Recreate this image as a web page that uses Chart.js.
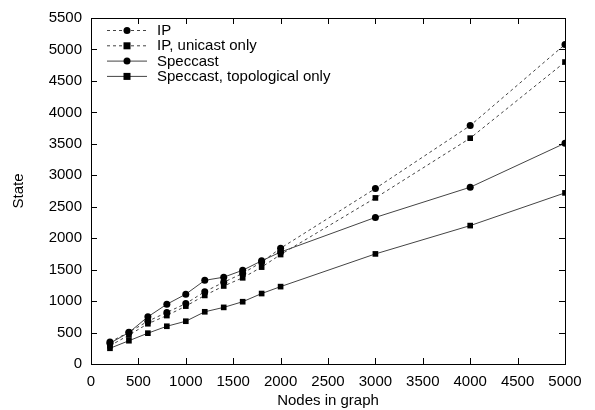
<!DOCTYPE html>
<html>
<head>
<meta charset="utf-8">
<script src="https://cdn.jsdelivr.net/npm/chart.js@4.4.0/dist/chart.umd.min.js"></script>
<style>
  html, body { margin: 0; padding: 0; background: #fff; }
  #wrap { width: 595px; height: 410px; }
</style>
</head>
<body>
<div id="wrap"><canvas id="chart" width="595" height="410"></canvas></div>
<script>
// Valeurs
const nodes = [200, 400, 600, 800, 1000, 1200, 1400, 1600, 1800, 2000, 3000, 4000, 5000];
const ipState = [350, 505, 680, 820, 960, 1150, 1300, 1440, 1620, 1840, 2790, 3790, 5080];
const ipUnicastState = [290, 460, 640, 770, 920, 1090, 1240, 1370, 1540, 1740, 2640, 3590, 4800];
const speccastState = [330, 500, 750, 950, 1110, 1330, 1380, 1490, 1640, 1780, 2330, 2810, 3510];
const topoState = [250, 370, 490, 600, 680, 830, 900, 990, 1120, 1230, 1750, 2200, 2720];
const seriesLabels = ['IP', 'IP, unicast only', 'Speccast', 'Speccast, topological only'];
const xTicks = [0, 500, 1000, 1500, 2000, 2500, 3000, 3500, 4000, 4500, 5000];
const yTicks = [0, 500, 1000, 1500, 2000, 2500, 3000, 3500, 4000, 4500, 5000, 5500];

const FONT = 'Liberation Sans, Arial, Helvetica, sans-serif';

function toPoints(values) {
    return nodes.map((n, i) => ({ x: n, y: values[i] }));
}

function makeDataset(label, values, style, dashed) {
    return {
        label: label,
        data: toPoints(values),
        borderColor: '#444',
        borderWidth: 1,
        borderDash: dashed ? [3, 3] : [],
        pointStyle: style,
        pointRadius: style === 'rect' ? 4 : 3.5,
        pointBackgroundColor: '#000',
        pointBorderColor: '#000',
        pointBorderWidth: 0,
        fill: false,
        tension: 0
    };
}

// Cadre + graduations vers l'intérieur (style gnuplot)
const frameTicks = {
    id: 'frameTicks',
    afterDatasetsDraw(chart) {
        const { ctx, chartArea: a, scales } = chart;
        const len = 6;
        ctx.save();
        ctx.strokeStyle = '#000';
        ctx.lineWidth = 1;
        ctx.strokeRect(a.left + 0.5, a.top + 0.5, a.right - a.left, a.bottom - a.top);
        ctx.beginPath();
        xTicks.forEach(v => {
            const px = Math.round(scales.x.getPixelForValue(v)) + 0.5;
            ctx.moveTo(px, a.bottom); ctx.lineTo(px, a.bottom - len);
            ctx.moveTo(px, a.top); ctx.lineTo(px, a.top + len);
        });
        yTicks.forEach(v => {
            const py = Math.round(scales.y.getPixelForValue(v)) + 0.5;
            ctx.moveTo(a.left, py); ctx.lineTo(a.left + len, py);
            ctx.moveTo(a.right, py); ctx.lineTo(a.right - len, py);
        });
        ctx.stroke();
        ctx.restore();
    }
};

// Légende : trait + marqueur + texte, en haut à gauche
const lineLegend = {
    id: 'lineLegend',
    afterDraw(chart) {
        const { ctx, chartArea: a } = chart;
        ctx.save();
        ctx.font = '15px ' + FONT;
        ctx.textBaseline = 'middle';
        ctx.fillStyle = '#000';
        chart.data.datasets.forEach((ds, i) => {
            const y = a.top + 12 + i * 15.3;
            const x0 = a.left + 16, x1 = a.left + 56, xm = (x0 + x1) / 2;
            ctx.strokeStyle = ds.borderColor;
            ctx.lineWidth = 1;
            ctx.setLineDash(ds.borderDash);
            ctx.beginPath();
            ctx.moveTo(x0, y + 0.5); ctx.lineTo(x1, y + 0.5);
            ctx.stroke();
            ctx.setLineDash([]);
            ctx.fillStyle = '#000';
            if (ds.pointStyle === 'rect') {
                ctx.fillRect(xm - 3.5, y - 3, 7, 7);
            } else {
                ctx.beginPath();
                ctx.arc(xm, y + 0.5, 3.5, 0, Math.PI * 2);
                ctx.fill();
            }
            ctx.fillText(ds.label, a.left + 66, y + 1);
        });
        ctx.restore();
    }
};

const ctx = document.getElementById('chart').getContext('2d');
new Chart(ctx, {
    type: 'line',
    data: {
        datasets: [
            makeDataset(seriesLabels[0], ipState, 'circle', true),
            makeDataset(seriesLabels[1], ipUnicastState, 'rect', true),
            makeDataset(seriesLabels[2], speccastState, 'circle', false),
            makeDataset(seriesLabels[3], topoState, 'rect', false)
        ]
    },
    options: {
        responsive: false,
        animation: false,
        layout: { padding: { left: 10, right: 30, top: 14, bottom: 0 } },
        plugins: {
            legend: { display: false },
            tooltip: { enabled: false }
        },
        scales: {
            x: {
                type: 'linear',
                min: 0,
                max: 5000,
                afterBuildTicks: s => { s.ticks = xTicks.map(v => ({ value: v })); },
                afterFit: s => { s.height = 46; },
                grid: { display: false, drawTicks: false },
                border: { display: false },
                ticks: { color: '#000', font: { family: FONT, size: 15 }, padding: 9, maxRotation: 0,
                         callback: v => String(v) },
                title: { display: true, text: 'Nodes in graph', color: '#000', font: { family: FONT, size: 15 }, padding: { top: 2, bottom: 0 } }
            },
            y: {
                type: 'linear',
                min: 0,
                max: 5500,
                afterBuildTicks: s => { s.ticks = yTicks.map(v => ({ value: v })); },
                afterFit: s => { s.width = 81; },
                grid: { display: false, drawTicks: false },
                border: { display: false },
                ticks: { color: '#000', font: { family: FONT, size: 15 }, padding: 9,
                         callback: v => String(v) },
                title: { display: true, text: 'State', color: '#000', font: { family: FONT, size: 15 }, padding: { top: 0, bottom: 0 } }
            }
        }
    },
    plugins: [frameTicks, lineLegend]
});
</script>
</body>
</html>
